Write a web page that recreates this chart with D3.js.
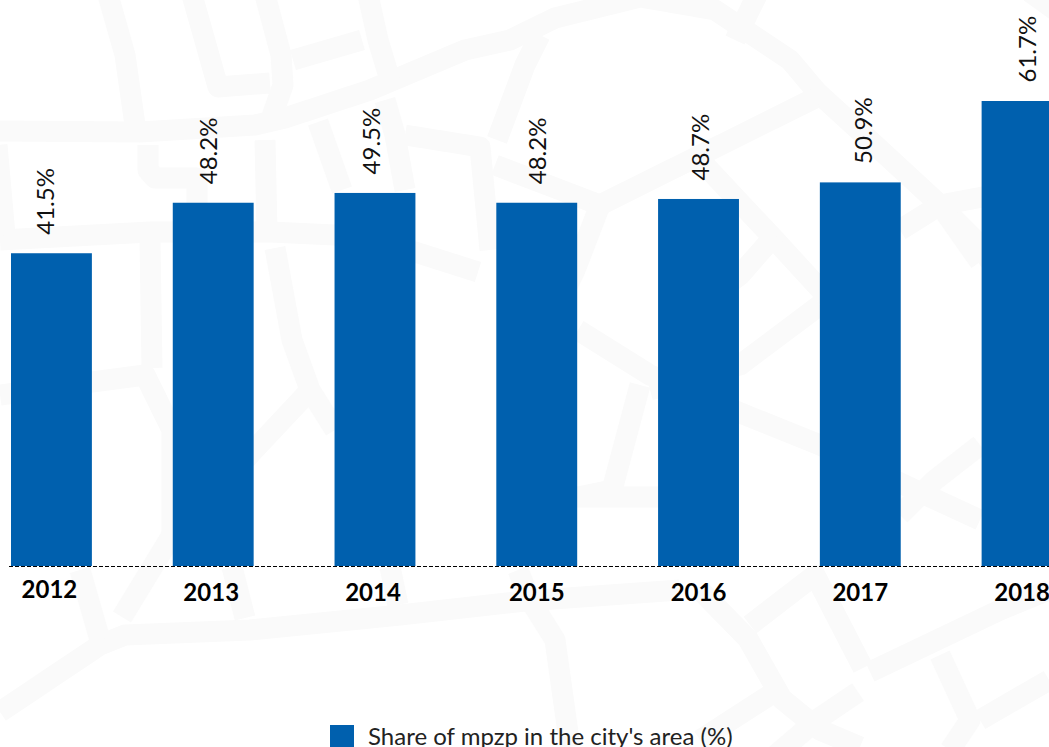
<!DOCTYPE html>
<html>
<head>
<meta charset="utf-8">
<script src="https://cdn.jsdelivr.net/npm/d3@7"></script>
<style>
  html, body { margin: 0; padding: 0; background: #fff; overflow: hidden; }
  text { font-family: Lato, sans-serif; }
</style>
</head>
<body>
<svg width="1049" height="747"></svg>
<script>
const years = ["2012", "2013", "2014", "2015", "2016", "2017", "2018"];
const shares = [41.5, 48.2, 49.5, 48.2, 48.7, 50.9, 61.7];
const legendLabel = "Share of mpzp in the city's area (%)";

// the value labels drift from the bar centres in the original
const labelShift = [-5.5, -4.3, -3.2, 1, 2.1, 3.3, 5.4];

// faint street map behind the chart, just decoration
const streets = [
  [[108,-5],[125,55],[135,125]],
  [[0,131],[140,132],[255,125],[285,118],[370,90],[465,50],[510,40],[555,18],[640,-3],[715,10],[790,60],[817,92],[875,145],[940,205],[975,240],[1000,275]],
  [[192,-5],[218,87],[270,83]],
  [[265,-5],[281,55],[283,85],[270,122]],
  [[293,60],[362,40]],
  [[368,-5],[378,40],[390,80]],
  [[318,122],[342,190]],
  [[385,100],[395,135],[405,190]],
  [[1030,-8],[1055,10]],
  [[757,-5],[735,40]],
  [[495,165],[600,205],[815,98]],
  [[600,205],[575,270],[555,310]],
  [[405,135],[480,147],[490,250]],
  [[497,140],[525,65],[540,35]],
  [[265,140],[267,232]],
  [[148,145],[148,170],[155,178],[197,178],[197,205]],
  [[0,240],[150,232],[270,232],[335,235],[415,252],[478,272]],
  [[-3,145],[5,235]],
  [[150,240],[152,368]],
  [[0,395],[92,382],[145,375],[172,430],[172,540]],
  [[275,248],[292,340],[310,390],[335,430]],
  [[172,540],[254,450],[315,385]],
  [[700,160],[775,240],[830,300]],
  [[700,305],[740,275],[775,235]],
  [[820,305],[740,365],[650,390]],
  [[900,230],[940,205],[1020,190]],
  [[940,205],[980,262]],
  [[578,330],[650,375],[738,412],[820,445],[915,490],[980,520]],
  [[640,385],[612,490],[578,497],[658,497]],
  [[900,515],[935,480],[980,445]],
  [[0,712],[100,645],[125,635],[250,630],[400,615],[525,601],[680,590]],
  [[80,570],[100,640]],
  [[122,617],[175,530]],
  [[232,567],[245,618]],
  [[390,567],[398,605]],
  [[518,570],[530,600],[555,640],[570,747]],
  [[700,590],[748,639],[782,699],[820,730],[860,747]],
  [[750,625],[815,575],[863,668]],
  [[870,672],[1000,610],[1049,590]],
  [[858,692],[818,719],[770,760]],
  [[770,695],[700,740]],
  [[940,655],[970,720],[950,750]],
  [[980,720],[1049,680]]
];

const svg = d3.select("svg"),
  width = +svg.attr("width"),
  height = +svg.attr("height");

const baseY = 566;

// the last bar runs past the right edge of the page, same as the original
const x = d3.scaleBand()
  .domain(years)
  .range([11, 1062.5])
  .paddingInner(0.5)
  .paddingOuter(0);

const y = d3.scaleLinear()
  .domain([0, 61.7])
  .range([baseY, 101]);

const streetLine = d3.line().curve(d3.curveLinear);

svg.append("g")
  .attr("class", "streets")
  .selectAll("path")
  .data(streets)
  .enter().append("path")
  .attr("d", streetLine)
  .attr("fill", "none")
  .attr("stroke", "#fafafa")
  .attr("stroke-width", 21)
  .attr("stroke-linejoin", "round");

// Bars
svg.append("g")
  .attr("class", "bars")
  .selectAll("rect")
  .data(shares)
  .enter().append("rect")
  .attr("x", (d, i) => x(years[i]))
  .attr("y", d => y(d))
  .attr("width", x.bandwidth())
  .attr("height", d => baseY - y(d))
  .attr("fill", "#0060ae");

// Value labels, rotated
svg.append("g")
  .attr("class", "labels")
  .selectAll("text")
  .data(shares)
  .enter().append("text")
  .attr("transform", (d, i) => `translate(${x(years[i]) + x.bandwidth() / 2 + labelShift[i] + 8.5},${y(d) - 18.5}) rotate(-90)`)
  .attr("font-size", 24)
  .attr("fill", "#111")
  .text(d => d.toFixed(1) + "%");

// X axis
const xAxis = svg.append("g")
  .attr("class", "x-axis")
  .attr("transform", `translate(0,${baseY})`)
  .call(d3.axisBottom(x).tickSize(0));

xAxis.select(".domain").remove();

xAxis.selectAll("text")
  .attr("font-family", "Lato, sans-serif")
  .attr("font-size", 24)
  .attr("font-weight", 700)
  .attr("fill", "#000")
  .attr("dx", (d, i) => i < 3 ? -2 : 0)
  .attr("y", (d, i) => i === 0 ? 15 : 18);

xAxis.append("line")
  .attr("x1", 9)
  .attr("x2", width)
  .attr("y1", 0.5)
  .attr("y2", 0.5)
  .attr("stroke", "#000")
  .attr("stroke-width", 1)
  .attr("stroke-dasharray", "4,2");

// Legend, cut off by the bottom of the page
const legend = svg.append("g").attr("class", "legend");

legend.append("rect")
  .attr("x", 330)
  .attr("y", 725)
  .attr("width", 24)
  .attr("height", 24)
  .attr("fill", "#0060ae");

legend.append("text")
  .attr("x", 368)
  .attr("y", 744.5)
  .attr("font-size", 24)
  .attr("fill", "#222")
  .text(legendLabel);
</script>
</body>
</html>
